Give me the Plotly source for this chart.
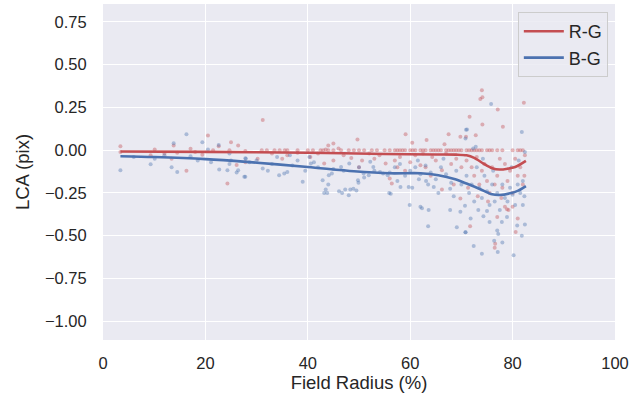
import plotly.graph_objects as go

# ---- data ----
rg_x = [3.4, 3.4, 10.1, 9.3, 13.8, 14.5, 13.4, 16.3, 17.1, 19.4, 20.5, 22.6, 25, 24.7, 26.4, 26.1, 24.3, 27.8, 27.8, 21.5, 18, 12,
        31.2, 30.2, 45, 44, 45, 43.5, 49.7, 43.2, 50.6, 56, 56.4, 55.2, 33, 36, 38, 40.5, 42, 47, 48.5, 52, 53, 54, 57, 35, 46, 50,
        59.1, 60.4, 63.2, 67.5, 69.8, 66.7, 66.2, 66.2, 69.8, 64.3, 62, 58, 60, 61, 63, 65, 67, 68, 69, 70, 64, 59, 68.5, 62.5, 57.5,
        74, 73.7, 74.1, 71.6, 70.9, 72.8, 74.1, 77.1, 78.1, 82.2, 78.5, 78.9, 80.6, 76.6, 76.5, 71.7, 77, 71, 72, 72.5, 73, 73.5,
        74, 74.5, 75, 75.5, 76, 76.5, 77, 77.5, 78, 78.5, 79, 79.5, 80, 80.5, 81, 81.5, 82, 82.3, 82.4, 75.2, 73.2, 71.3, 80, 81,
        77.8, 79.2]
rg_y = [0.023, -0.01, 0.004, -0.03, 0.027, -0.015, -0.05, -0.12, 0.008, -0.027, 0.086, 0.023, 0.047, 0.0, 0.027, -0.086, -0.195, -0.004, -0.07, 0.0, -0.01, -0.02,
        0.176, -0.05, -0.06, 0.027, 0.039, 0.004, 0.063, -0.078, -0.06, -0.166, -0.195, -0.078, -0.02, -0.03, -0.015, -0.04, -0.02, -0.03, -0.045, -0.02, -0.05, -0.03, -0.06, -0.05, 0.01, -0.1,
        0.094, 0.043, 0.059, 0.094, 0.078, 0.035, -0.117, -0.23, -0.283, -0.04, -0.088, -0.04, -0.07, -0.03, -0.1, -0.06, -0.02, -0.08, -0.05, -0.1, -0.15, -0.12, -0.2, -0.02, -0.1,
        0.35, 0.30, 0.31, 0.195, 0.078, 0.088, 0.15, 0.238, 0.137, 0.277, -0.33, -0.345, -0.478, -0.547, -0.57, -0.445, -0.39, -0.06, -0.1, -0.15, -0.04, -0.2,
        -0.12, -0.08, -0.18, -0.25, -0.1, -0.2, -0.15, -0.05, -0.22, -0.08, -0.18, -0.12, -0.25, -0.05, -0.15, -0.1, -0.2, -0.15, -0.03, -0.3, -0.27, -0.22, -0.33, -0.4,
        -0.28, -0.35]

# red points sitting at zero
rg0_x = [31, 32, 33.5, 34.5, 35.5, 36, 38, 40, 41, 42.5, 43, 44, 45, 46.5, 48, 49, 50, 51, 52.5, 53.5, 55, 56, 57, 57.5, 58,
         58.5, 59, 60, 60.5, 61, 62, 62.5, 63, 64, 64.5, 65, 65.5, 66, 67, 67.5, 68, 68.5, 69, 69.5, 70, 71, 71.5, 72, 72.5,
         73, 73.5, 74, 75, 75.5, 76, 77, 78, 80, 81, 81.5, 82]
rg0_y = [0.0] * len(rg0_x)

bg_x = [3.4, 9.3, 10.1, 13.8, 13.4, 14.5, 16.3, 17.1, 19.4, 20.5, 21.1, 22.6, 22.7, 24.3, 24.7, 24.7, 25, 26.1, 26.4, 27.8, 27.8, 28.6, 6, 12, 18.5,
        27.6, 27.9, 31.2, 32.2, 34.4, 35.4, 36, 39, 40.3, 40.6, 41.2, 42.9, 43.5, 43.2, 43.8, 44.1, 44.7, 46.1, 46.7, 47.3, 48, 48.3, 48.9, 49.5, 49.8,
        49.9, 46.5, 48.1, 50.9, 51.9, 52.8, 54.1, 54.7, 55.6, 55.9, 52.2, 30, 33, 34, 37, 38, 42, 45, 47, 50, 53, 56, 51, 36.5, 44, 39.5,
        59.7, 60.4, 59.9, 62, 62.3, 63.6, 63.5, 67.8, 69.1, 70.8, 69.8, 70.7, 58.1, 56.2, 64.6, 67.8, 61.7, 63.1, 70.8, 71.1, 57, 58, 59, 60,
        61, 62, 63, 64, 65, 66, 67, 68, 69, 70, 57.5, 65.5, 68.5, 66.5, 61.5, 63.5,
        75.8, 81.8, 70.9, 72.8, 72.4, 74, 76.4, 77.1, 80.2, 78, 77.2, 81.8, 82.4, 82, 80.9, 70.8, 73.3, 74.3, 75, 77, 77.9, 78.9, 71, 71.5,
        72, 72.5, 73, 73.5, 74, 74.5, 75, 75.5, 76, 76.5, 77, 77.5, 78, 78.5, 79, 79.5, 80, 80.5, 81, 81.5, 82, 82.3, 74.2, 76.2, 79.8,
        81.2, 82.4, 72.3, 75.5, 71.8]
bg_y = [-0.117, -0.082, -0.05, 0.04, -0.10, -0.127, 0.094, -0.035, 0.047, 0.004, -0.07, 0.03, -0.113, -0.117, -0.02, -0.08, -0.06, -0.13, -0.117, -0.156, -0.047, -0.07, -0.04, -0.03, -0.06,
        -0.156, -0.05, -0.107, -0.12, -0.146, -0.137, -0.127, -0.185, -0.04, -0.078, -0.07, -0.176, -0.23, -0.25, -0.25, -0.146, -0.137, -0.24, -0.25, -0.23, -0.264, -0.23, -0.226, -0.236, -0.176,
        -0.19, -0.098, -0.078, -0.137, -0.146, -0.098, -0.127, -0.137, -0.146, -0.25, -0.068, -0.06, -0.08, -0.04, -0.09, -0.06, -0.1, -0.11, -0.12, -0.1, -0.12, -0.13, -0.16, -0.03, -0.2, -0.12,
        -0.215, -0.22, -0.32, -0.33, -0.34, -0.35, -0.445, -0.35, -0.45, -0.48, -0.36, -0.325, -0.215, -0.254, -0.215, -0.225, -0.17, -0.18, 0.068, 0.121, -0.1, -0.08, -0.15, -0.12,
        -0.1, -0.14, -0.09, -0.13, -0.17, -0.1, -0.14, -0.19, -0.12, -0.2, -0.18, -0.25, -0.27, -0.05, -0.06, -0.2,
        0.27, 0.107, 0.12, 0.02, -0.56, -0.605, -0.53, -0.595, -0.615, -0.54, -0.49, -0.5, -0.435, -0.32, -0.44, -0.48, -0.35, -0.386, -0.355, -0.47, -0.42, -0.39, -0.15, -0.25,
        -0.2, -0.3, -0.1, -0.22, -0.28, -0.15, -0.24, -0.32, -0.2, -0.3, -0.25, -0.35, -0.2, -0.28, -0.3, -0.22, -0.26, -0.32, -0.2, -0.25, -0.18, -0.27, -0.05, -0.12, -0.1,
        -0.06, -0.01, 0.01, -0.42, -0.4]

# smoothed curves
rg_line_x = [3.4, 20, 40, 55, 65, 69, 71, 72.5, 74.3, 76, 77.5, 79, 80.5, 82.6]
rg_line_y = [-0.008, -0.01, -0.015, -0.022, -0.025, -0.026, -0.03, -0.045, -0.078, -0.105, -0.113, -0.108, -0.098, -0.062]
bg_line_x = [3.4, 10, 20, 28, 40, 49, 56, 62, 65.5, 68.8, 71, 73.7, 76, 77.5, 79.5, 81, 82.6]
bg_line_y = [-0.035, -0.04, -0.052, -0.068, -0.098, -0.123, -0.135, -0.135, -0.146, -0.17, -0.195, -0.228, -0.258, -0.262, -0.252, -0.238, -0.21]

x_ticks = [0, 20, 40, 60, 80, 100]
y_ticks = [-1.0, -0.75, -0.5, -0.25, 0.0, 0.25, 0.5, 0.75]

RED = "#C44E52"
BLUE = "#4C72B0"
TXT = "#262626"
FAM = "Liberation Sans, Arial, sans-serif"

fig = go.Figure()
fig.add_trace(go.Scatter(x=rg_x + rg0_x, y=rg_y + rg0_y, mode="markers",
                         marker=dict(color=RED, size=4, opacity=0.4, line=dict(width=0)),
                         showlegend=False, hoverinfo="skip"))
fig.add_trace(go.Scatter(x=bg_x, y=bg_y, mode="markers",
                         marker=dict(color=BLUE, size=4, opacity=0.4, line=dict(width=0)),
                         showlegend=False, hoverinfo="skip"))
fig.add_trace(go.Scatter(x=rg_line_x, y=rg_line_y, mode="lines", name="R-G",
                         line=dict(color=RED, width=2.6, shape="spline", smoothing=0.8)))
fig.add_trace(go.Scatter(x=bg_line_x, y=bg_line_y, mode="lines", name="B-G",
                         line=dict(color=BLUE, width=2.6, shape="spline", smoothing=0.8)))

fig.update_layout(
    width=633, height=403,
    margin=dict(l=103, r=16, t=4, b=63),
    paper_bgcolor="white",
    plot_bgcolor="#EAEAF2",
    font=dict(family=FAM, size=16, color=TXT),
    xaxis=dict(range=[0, 100], tickvals=x_ticks, showgrid=True, gridcolor="white", gridwidth=1.3,
               zeroline=False, showline=False, ticks="outside", ticklen=8, tickcolor="rgba(0,0,0,0)",
               title=dict(text="Field Radius (%)", font=dict(family=FAM, size=18.5, color=TXT), standoff=1),
               tickfont=dict(family=FAM, size=16.5, color=TXT)),
    yaxis=dict(range=[-1.11, 0.855], tickvals=y_ticks, tickformat=".2f", showgrid=True,
               gridcolor="white", gridwidth=1.3, zeroline=False, showline=False,
               ticks="outside", ticklen=12, tickcolor="rgba(0,0,0,0)",
               title=dict(text="LCA (pix)", font=dict(family=FAM, size=18.5, color=TXT), standoff=10),
               tickfont=dict(family=FAM, size=16.5, color=TXT)),
    legend=dict(x=0.986, y=0.976, xanchor="right", yanchor="top",
                bgcolor="rgba(234,234,242,0.85)", bordercolor="#CCCCCC", borderwidth=1,
                font=dict(family=FAM, size=18, color=TXT), tracegroupgap=2, itemwidth=40),
    showlegend=True,
)

fig.write_html("out.html")
